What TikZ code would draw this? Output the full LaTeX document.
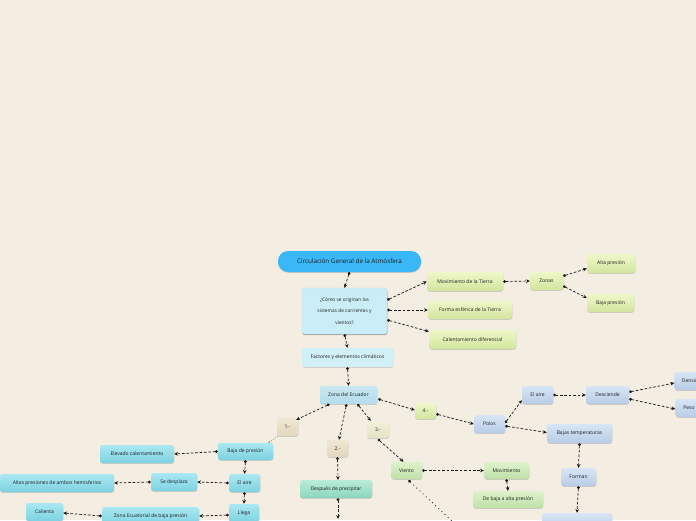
\documentclass[tikz,border=0pt]{standalone}
\usepackage{fontspec}
\setmainfont{Open Sans}
\usetikzlibrary{arrows.meta,shadows,calc}
\definecolor{bg}{RGB}{243,237,226}
\definecolor{txt}{RGB}{30,30,30}
\definecolor{titleC}{RGB}{58,183,246}
\definecolor{qC}{RGB}{203,238,246}
\definecolor{qD}{RGB}{175,222,234}
\definecolor{facC}{RGB}{210,240,247}
\definecolor{zeT}{RGB}{200,232,242}
\definecolor{zeB}{RGB}{180,220,235}
\definecolor{grT}{RGB}{238,248,200}
\definecolor{grB}{RGB}{210,229,158}
\definecolor{beT}{RGB}{240,232,213}
\definecolor{beB}{RGB}{226,215,189}
\definecolor{ylT}{RGB}{242,240,218}
\definecolor{ylB}{RGB}{228,228,196}
\definecolor{blT}{RGB}{216,230,246}
\definecolor{blB}{RGB}{184,204,230}
\definecolor{cyT}{RGB}{170,232,242}
\definecolor{cyB}{RGB}{125,210,225}
\definecolor{lgT}{RGB}{222,242,204}
\definecolor{lgB}{RGB}{190,224,168}
\definecolor{tlT}{RGB}{184,236,216}
\definecolor{tlB}{RGB}{140,214,190}
\tikzset{
  nbase/.style={rounded corners=2.5pt, inner sep=0pt, text=txt, align=center,
    font=\fontsize{5.0}{6}\selectfont,
    drop shadow={shadow xshift=0.3pt, shadow yshift=-0.8pt, opacity=0.22, fill=black!70}},
  nTitle/.style={nbase, fill=titleC, rounded corners=10pt, font=\fontsize{6.3}{7.5}\selectfont, drop shadow={opacity=0}},
  nQ/.style={nbase, fill=qC, draw=qD, line width=0.4pt, font=\fontsize{4.8}{11.6}\selectfont,
    drop shadow={shadow xshift=0.4pt, shadow yshift=-1.2pt, opacity=0.35, fill=black!70}},
  nFac/.style={nbase, fill=facC, drop shadow={opacity=0}},
  nZe/.style={nbase, top color=zeT, bottom color=zeB},
  nGr/.style={nbase, top color=grT, bottom color=grB},
  nBe/.style={nbase, top color=beT, bottom color=beB},
  nYl/.style={nbase, top color=ylT, bottom color=ylB},
  nBl/.style={nbase, top color=blT, bottom color=blB},
  nCy/.style={nbase, top color=cyT, bottom color=cyB},
  nLg/.style={nbase, top color=lgT, bottom color=lgB},
  nTl/.style={nbase, top color=tlT, bottom color=tlB},
  con/.style={draw=black!90, line width=0.7pt, dash pattern=on 2.6pt off 1.8pt,
    {Circle[length=2.8pt]}-{Stealth[length=3.8pt,width=3.6pt]}},
}
\begin{document}
\begin{tikzpicture}[x=1pt,y=-1pt]
\useasboundingbox (0,0) rectangle (696,520);
\clip (0,0) rectangle (696,520);
\fill[bg] (0,0) rectangle (696,520);

% nodes
\node[nTitle, minimum width=143pt, minimum height=21pt] (title) at (349.5,261.5) {Circulación General de la Atmósfera};
\node[nQ, minimum width=85pt, minimum height=46pt] (q) at (344.5,311) {¿Cómo se originan los\\sistemas de corrientes y\\vientos?};
\node[nFac, minimum width=91pt, minimum height=19pt] (fac) at (347.5,357.5) {Factores y elementos climáticos};

\node[nGr, minimum width=76pt, minimum height=19pt] (mov) at (465,281.5) {Movimiento de la Tierra};
\node[nGr, minimum width=84pt, minimum height=18pt] (forma) at (470,310) {Forma esférica de la Tierra};
\node[nGr, minimum width=87pt, minimum height=19pt] (cal) at (472.5,339.5) {Calentamiento diferencial};
\node[nGr, minimum width=33pt, minimum height=18pt] (zonas) at (546.5,281) {Zonas};
\node[nGr, minimum width=48pt, minimum height=19pt] (alta) at (611,263.5) {Alta presión};
\node[nGr, minimum width=47pt, minimum height=18pt] (bajap) at (610.5,303) {Baja presión};

\node[nZe, minimum width=57pt, minimum height=18pt] (zec) at (348.5,395) {Zona del Ecuador};
\node[nBe, minimum width=21pt, minimum height=18pt] (n1) at (287.5,427) {1.-};
\node[nBe, minimum width=21pt, minimum height=17pt] (n2) at (337.5,448.5) {2.-};
\node[nYl, minimum width=22pt, minimum height=17pt] (n3) at (378,429.5) {3.-};
\node[nGr, minimum width=21pt, minimum height=16pt] (n4) at (425.5,411) {4.-};

\node[nBl, minimum width=31pt, minimum height=18pt] (polos) at (489.5,424) {Polos};
\node[nBl, minimum width=31pt, minimum height=18pt] (aire2) at (537.5,395) {El aire};
\node[nBl, minimum width=43pt, minimum height=18pt] (desc) at (607.5,395) {Desciende};
\node[nBl, minimum width=37pt, minimum height=18pt] (dens) at (693,381) {Densidad};
\node[nBl, minimum width=27pt, minimum height=18pt] (peso) at (689,408) {Peso};
\node[nBl, minimum width=65pt, minimum height=19pt] (bt) at (579.5,433.5) {Bajas temperaturas};
\node[nBl, minimum width=35pt, minimum height=18pt] (forman) at (578.5,477) {Forman};
\node[nBl, minimum width=70pt, minimum height=18pt] (bot) at (577,522) {};

\node[nLg, minimum width=31pt, minimum height=17pt] (viento) at (406.5,470.5) {Viento};
\node[nLg, minimum width=45pt, minimum height=17pt] (movim) at (506.5,470.5) {Movimiento};
\node[nLg, minimum width=70pt, minimum height=17pt] (debaja) at (508,499.5) {De baja a alta presión};

\node[nTl, minimum width=72pt, minimum height=18pt] (desp) at (336,489) {Despuès de precipitar};

\node[nCy, minimum width=55pt, minimum height=17pt] (bdp) at (245.5,451.5) {Baja de presión};
\node[nCy, minimum width=74pt, minimum height=18pt] (elev) at (137,454) {Elevado calentamiento};
\node[nCy, minimum width=31pt, minimum height=18pt] (aire1) at (244.5,483) {El aire};
\node[nCy, minimum width=46pt, minimum height=18pt] (sed) at (174,482) {Se desplaza};
\node[nCy, minimum width=114pt, minimum height=18pt] (altas) at (57,483) {Altas presiones de ambos hemisferios};
\node[nCy, minimum width=30pt, minimum height=18pt] (llega) at (244,513) {Llega};
\node[nCy, minimum width=97pt, minimum height=18pt] (zeq) at (150.5,516) {Zona Ecuatorial de baja presión};
\node[nCy, minimum width=37pt, minimum height=18pt] (cali) at (44.5,512) {Calienta};

\coordinate (despEnd) at (338,519);
\coordinate (ventEnd) at (454,523);

% connectors
\draw[con] (title.south) -- (q.north);
\draw[con] (q.south) -- (fac.north);
\draw[con] (fac.south) -- (zec.north);
\draw[con] ($(q.east)+(0,-11)$) -- (mov.west);
\draw[con] ($(q.east)+(0,-1)$) -- (forma.west);
\draw[con] ($(q.east)+(0,9)$) -- ($(cal.west)+(0,-8)$);
\draw[con] (mov.east) -- (zonas.west);
\draw[con] ($(zonas.east)+(0,-5)$) -- ($(alta.west)+(0,5)$);
\draw[con] ($(zonas.east)+(0,5)$) -- ($(bajap.west)+(0,-5)$);

\draw[con] ($(zec.south)+(-19,0)$) -- ($(n1.north east)+(-2,2)$);
\draw[con] ($(zec.south)+(-2,0)$) -- ($(n2.north)+(1.5,0)$);
\draw[con] ($(zec.south)+(9,0)$) -- ($(n3.north west)+(4,0)$);
\draw[con] ($(zec.east)+(1,4)$) -- ($(n4.west)+(0,-1)$);
\draw[black!50, line width=0.4pt, dash pattern=on 1.2pt off 1.2pt, -{Stealth[length=2.4pt]}] ($(n1.south west)+(1,0)$) -- ($(bdp.north east)+(-5,0)$);

\draw[con] ($(n4.east)+(0,3)$) -- ($(polos.west)+(0,0)$);
\draw[con] ($(polos.north east)+(0,8)$) -- ($(aire2.south west)+(0,-4)$);
\draw[con] ($(polos.east)+(0,2)$) -- ($(bt.west)+(0,-1)$);
\draw[con] (aire2.east) -- (desc.west);
\draw[con] ($(desc.east)+(0,-3)$) -- ($(dens.west)+(0,2)$);
\draw[con] ($(desc.east)+(0,4)$) -- ($(peso.west)+(0,1)$);
\draw[con] (bt.south) -- (forman.north);
\draw[con] (forman.south) -- (bot.north);

\draw[con] ($(n3.south)+(0,1)$) -- ($(viento.north)+(-3,0)$);
\draw[con] (viento.east) -- (movim.west);
\draw[con] (movim.south) -- (debaja.north);
\draw[black!90, line width=0.8pt, dash pattern=on 0.9pt off 3.4pt, {Circle[length=2.8pt]}-] ($(viento.south)+(2,1)$) -- (ventEnd);

\draw[con] (n2.south) -- ($(desp.north)+(2,0)$);
\draw[con] ($(desp.south)+(2,0)$) -- (despEnd);

\draw[con] (bdp.west) -- (elev.east);
\draw[con] (bdp.south) -- (aire1.north);
\draw[con] (aire1.west) -- (sed.east);
\draw[con] (sed.west) -- (altas.east);
\draw[con] (aire1.south) -- (llega.north);
\draw[con] ($(llega.west)+(0,2)$) -- (zeq.west -| zeq.east);
\draw[con] ($(zeq.west)+(0,0)$) -- ($(cali.east)+(0,1)$);
\end{tikzpicture}
\end{document}
